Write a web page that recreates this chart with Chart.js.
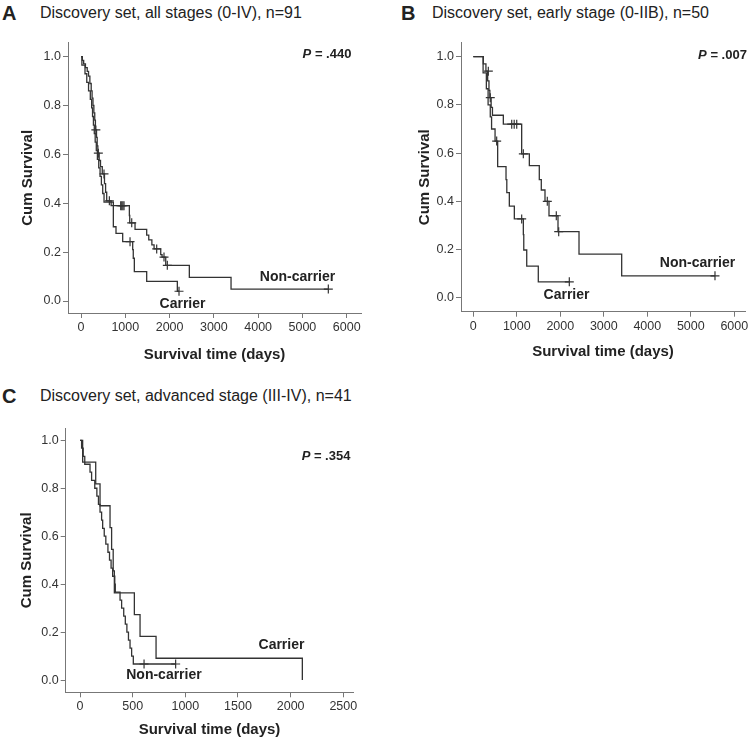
<!DOCTYPE html>
<html>
<head>
<meta charset="utf-8">
<script src="https://cdn.jsdelivr.net/npm/chart.js@4.4.1/dist/chart.umd.min.js"></script>
<style>
    body { margin: 0; background: #fff; width: 755px; height: 744px; position: relative; overflow: hidden; font-family: "Liberation Sans", Arial, sans-serif; color: #222; }
    .head { position: absolute; font-size: 16px; line-height: 20px; white-space: nowrap; }
    .head b { position: absolute; font-size: 20px; }
    canvas { position: absolute; }
</style>
</head>
<body>
<div class="head" style="left:0;top:3px;"><b style="left:2px;">A</b><span style="position:absolute;left:40px;">Discovery set, all stages (0-IV), n=91</span></div>
<div class="head" style="left:375px;top:3px;"><b style="left:26px;">B</b><span style="position:absolute;left:57px;">Discovery set, early stage (0-IIB), n=50</span></div>
<div class="head" style="left:0;top:386px;"><b style="left:2px;">C</b><span style="position:absolute;left:40px;">Discovery set, advanced stage (III-IV), n=41</span></div>

<canvas id="chartA" width="380" height="340" style="left:0;top:30px;"></canvas>
<canvas id="chartB" width="380" height="340" style="left:375px;top:30px;"></canvas>
<canvas id="chartC" width="380" height="334" style="left:0;top:410px;"></canvas>

<script>
// tick labels
const yTicks = [0, 0.2, 0.4, 0.6, 0.8, 1.0];
const xTicksLong = [0, 1000, 2000, 3000, 4000, 5000, 6000];
const xTicksShort = [0, 500, 1000, 1500, 2000, 2500];

// Panel A - all stages
const aNonDays = [0, 30, 60, 100, 140, 170, 200, 230, 250, 270, 290, 310, 325, 350, 365, 380, 410, 440, 480, 530, 555, 580, 680, 1092, 1100, 1220, 1483, 1530, 1600, 1650, 1800, 1830, 1913, 2446, 3388, 5585];
const aNonSurv = [1.0, 0.985, 0.97, 0.955, 0.94, 0.92, 0.89, 0.86, 0.83, 0.80, 0.77, 0.74, 0.70, 0.67, 0.635, 0.605, 0.575, 0.55, 0.52, 0.48, 0.445, 0.41, 0.39, 0.35, 0.32, 0.293, 0.27, 0.25, 0.23, 0.213, 0.19, 0.18, 0.146, 0.097, 0.049, 0.049];
const aNonCensDays = [335, 391, 519, 640, 896, 920, 945, 971, 1145, 1709, 1874, 1949, 5585];
const aNonCensSurv = [0.70, 0.605, 0.52, 0.41, 0.39, 0.39, 0.39, 0.39, 0.32, 0.213, 0.18, 0.146, 0.049];
const aCarDays = [0, 20, 90, 130, 170, 210, 240, 260, 280, 300, 320, 345, 370, 400, 430, 460, 490, 520, 730, 760, 790, 941, 1167, 1180, 1204, 1483, 2175, 2213];
const aCarSurv = [1.0, 0.965, 0.93, 0.895, 0.86, 0.825, 0.79, 0.755, 0.72, 0.685, 0.65, 0.615, 0.58, 0.545, 0.51, 0.475, 0.44, 0.405, 0.304, 0.304, 0.277, 0.243, 0.21, 0.175, 0.12, 0.08, 0.04, 0.04];
const aCarCensDays = [1107, 2213];
const aCarCensSurv = [0.243, 0.04];

// Panel B - early stage
const bNonDays = [0, 230, 290, 330, 360, 380, 410, 440, 690, 1112, 1288, 1517, 1563, 1648, 1740, 1947, 2430, 3411, 5556];
const bNonSurv = [1.0, 0.97, 0.94, 0.90, 0.86, 0.83, 0.79, 0.757, 0.72, 0.597, 0.548, 0.49, 0.447, 0.40, 0.34, 0.274, 0.181, 0.091, 0.091];
const bNonCensDays = [345, 390, 883, 940, 998, 1150, 1701, 1908, 1963, 5556];
const bNonCensSurv = [0.94, 0.83, 0.72, 0.72, 0.72, 0.597, 0.40, 0.34, 0.274, 0.091];
const bCarDays = [0, 225, 300, 340, 390, 420, 500, 560, 752, 770, 828, 943, 1150, 1160, 1228, 1494, 2207];
const bCarSurv = [1.0, 0.933, 0.867, 0.80, 0.75, 0.70, 0.65, 0.544, 0.49, 0.436, 0.38, 0.327, 0.262, 0.198, 0.131, 0.066, 0.066];
const bCarCensDays = [537, 1112, 2207];
const bCarCensSurv = [0.65, 0.327, 0.066];

// Panel C - advanced stage
const cNonDays = [0, 15, 30, 45, 95, 110, 140, 160, 175, 190, 205, 215, 230, 245, 265, 280, 295, 310, 330, 335, 380, 395, 415, 430, 445, 460, 475, 490, 506, 908];
const cNonSurv = [1.0, 0.967, 0.933, 0.90, 0.867, 0.833, 0.80, 0.767, 0.733, 0.70, 0.667, 0.633, 0.60, 0.567, 0.533, 0.50, 0.467, 0.433, 0.40, 0.367, 0.333, 0.30, 0.267, 0.233, 0.20, 0.167, 0.133, 0.10, 0.067, 0.067];
const cNonCensDays = [608, 908];
const cNonCensSurv = [0.067, 0.067];
const cCarDays = [0, 25, 149, 190, 285, 300, 315, 326, 516, 570, 722, 2111];
const cCarSurv = [1.0, 0.909, 0.818, 0.727, 0.636, 0.545, 0.455, 0.364, 0.273, 0.182, 0.091, 0.0];

const lineColor = "#333";
const axisColor = "#777";

function pts(xs, ys) {
    return xs.map((x, i) => ({ x: x, y: ys[i] }));
}

function curve(xs, ys) {
    return {
        data: pts(xs, ys), showLine: true, stepped: "before",
        borderColor: lineColor, borderWidth: 1.3, pointRadius: 0
    };
}

function censors(xs, ys) {
    return {
        data: pts(xs, ys), showLine: false, pointStyle: "cross",
        pointRadius: 4.5, borderColor: lineColor, borderWidth: 1.2, backgroundColor: lineColor
    };
}

// text labels placed in data units
const kmLabels = {
    id: "kmLabels",
    afterDatasetsDraw(chart, args, opts) {
        const ctx = chart.ctx;
        const sx = chart.scales.x, sy = chart.scales.y;
        ctx.save();
        ctx.fillStyle = "#222";
        ctx.textBaseline = "middle";
        for (const it of opts.items) {
            const px = sx.getPixelForValue(it.x);
            const py = sy.getPixelForValue(it.y);
            if (it.p) {
                ctx.font = "italic bold 13px 'Liberation Sans', Arial";
                const w1 = ctx.measureText("P").width;
                ctx.font = "bold 13px 'Liberation Sans', Arial";
                const rest = " = " + it.p;
                const w2 = ctx.measureText(rest).width;
                const x0 = px - (w1 + w2) / 2;
                ctx.textAlign = "left";
                ctx.font = "italic bold 13px 'Liberation Sans', Arial";
                ctx.fillText("P", x0, py);
                ctx.font = "bold 13px 'Liberation Sans', Arial";
                ctx.fillText(rest, x0 + w1, py);
            } else {
                ctx.font = "bold 14px 'Liberation Sans', Arial";
                ctx.textAlign = "center";
                ctx.fillText(it.text, px, py);
            }
        }
        ctx.restore();
    }
};

function makePanel(id, p) {
    new Chart(document.getElementById(id), {
        type: "scatter",
        data: { datasets: p.datasets },
        options: {
            responsive: false,
            animation: false,
            events: [],
            layout: { padding: { top: p.padTop, right: p.padRight, bottom: 0, left: 0 } },
            plugins: {
                legend: { display: false },
                tooltip: { enabled: false },
                kmLabels: { items: p.labels }
            },
            scales: {
                x: {
                    type: "linear", min: p.xMin, max: p.xMax,
                    afterFit: s => { s.height = p.xHeight; },
                    afterBuildTicks: s => { s.ticks = p.xTicks.map(v => ({ value: v })); },
                    ticks: { color: "#333", font: { size: 12.5, family: "'Liberation Sans', Arial" }, padding: 2, maxRotation: 0, autoSkip: false, callback: v => String(v) },
                    grid: { drawOnChartArea: false, drawTicks: true, tickLength: 5, color: axisColor },
                    border: { color: axisColor, width: 1 },
                    title: { display: true, text: "Survival time (days)", color: "#222", font: { size: 15, weight: "bold", family: "'Liberation Sans', Arial" }, padding: { top: 0, bottom: p.xTitlePad } }
                },
                y: {
                    type: "linear", min: p.yMin, max: p.yMax,
                    afterFit: s => { s.width = p.yWidth; },
                    afterBuildTicks: s => { s.ticks = yTicks.map(v => ({ value: v })); },
                    ticks: { color: "#333", font: { size: 12.5, family: "'Liberation Sans', Arial" }, padding: 2, callback: v => v.toFixed(1) },
                    grid: { drawOnChartArea: false, drawTicks: true, tickLength: 5, color: axisColor },
                    border: { color: axisColor, width: 1 },
                    title: { display: true, text: "Cum Survival", color: "#222", font: { size: 15, weight: "bold", family: "'Liberation Sans', Arial" }, padding: { top: p.yTitlePad, bottom: 0 } }
                }
            }
        },
        plugins: [kmLabels]
    });
}

makePanel("chartA", {
    datasets: [curve(aNonDays, aNonSurv), censors(aNonCensDays, aNonCensSurv), curve(aCarDays, aCarSurv), censors(aCarCensDays, aCarCensSurv)],
    xMin: -294, xMax: 6323, yMin: -0.049, yMax: 1.057, xTicks: xTicksLong,
    padTop: 12.7, padRight: 19, xHeight: 57, yWidth: 68, xTitlePad: 6, yTitlePad: 19,
    labels: [{ p: ".440", x: 5555, y: 1.007 }, { text: "Non-carrier", x: 4889, y: 0.098 }, { text: "Carrier", x: 2292, y: -0.012 }]
});

makePanel("chartB", {
    datasets: [curve(bNonDays, bNonSurv), censors(bNonCensDays, bNonCensSurv), curve(bCarDays, bCarSurv), censors(bCarCensDays, bCarCensSurv)],
    xMin: -283, xMax: 6246, yMin: -0.058, yMax: 1.058, xTicks: xTicksLong,
    padTop: 12.7, padRight: 10, xHeight: 58.3, yWidth: 86, xTitlePad: 9, yTitlePad: 41,
    labels: [{ p: ".007", x: 5729, y: 1.006 }, { text: "Non-carrier", x: 5154, y: 0.144 }, { text: "Carrier", x: 2143, y: 0.011 }]
});

makePanel("chartC", {
    datasets: [curve(cNonDays, cNonSurv), censors(cNonCensDays, cNonCensSurv), curve(cCarDays, cCarSurv)],
    xMin: -136, xMax: 2595, yMin: -0.051, yMax: 1.05, xTicks: xTicksShort,
    padTop: 18.3, padRight: 26.7, xHeight: 51.7, yWidth: 65.7, xTitlePad: 5, yTitlePad: 17.7,
    labels: [{ p: ".354", x: 2336, y: 0.932 }, { text: "Carrier", x: 1913, y: 0.146 }, { text: "Non-carrier", x: 797, y: 0.021 }]
});
</script>
</body>
</html>
